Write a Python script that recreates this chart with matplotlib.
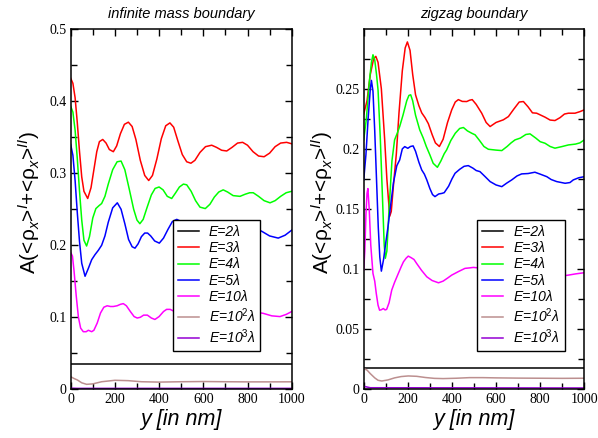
import matplotlib
matplotlib.use("Agg")
import matplotlib.pyplot as plt
from matplotlib.ticker import MultipleLocator, FormatStrFormatter

plt.rcParams['font.family'] = ['Liberation Sans', 'DejaVu Sans']
plt.rcParams['mathtext.fontset'] = 'custom'
plt.rcParams['mathtext.rm'] = 'Liberation Sans'
plt.rcParams['mathtext.it'] = 'Liberation Sans:italic'

# ---- data (y in nm, amplitude) ----
labels = ['E=2λ', 'E=3λ', 'E=4λ', 'E=5λ', 'E=10λ', 'E=10$^{2}$λ', 'E=10$^{3}$λ']
colors = ['#000000', '#ff0000', '#00ff00', '#0000ff', '#ff00ff', '#bc8f8f', '#9400d3']

# infinite mass boundary
im_e2_x = [0, 1000]
im_e2_y = [0.0352, 0.0352]

im_e3_x = [0, 10, 20, 30, 40, 50, 60, 77, 92, 105, 118, 130, 145, 160, 175, 193, 208, 225, 243, 261,
           278, 295, 315, 335, 353, 370, 390, 410, 430, 449, 466, 485, 505, 525, 544, 562, 585, 610,
           638, 660, 683, 706, 730, 755, 778, 800, 825, 850, 875, 900, 925, 950, 977, 1000]
im_e3_y = [0.432, 0.425, 0.405, 0.370, 0.330, 0.295, 0.275, 0.265, 0.280, 0.305, 0.330, 0.344, 0.347,
           0.342, 0.333, 0.330, 0.338, 0.355, 0.368, 0.371, 0.365, 0.347, 0.318, 0.297, 0.290, 0.297,
           0.320, 0.348, 0.366, 0.370, 0.364, 0.345, 0.326, 0.316, 0.314, 0.318, 0.329, 0.337, 0.339,
           0.336, 0.332, 0.331, 0.336, 0.342, 0.343, 0.339, 0.330, 0.324, 0.323, 0.328, 0.337, 0.342,
           0.343, 0.341]

im_e4_x = [0, 10, 20, 30, 40, 50, 60, 72, 85, 100, 114, 128, 140, 155, 170, 190, 210, 228, 245, 265,
           285, 300, 313, 328, 345, 365, 382, 400, 418, 437, 457, 475, 492, 510, 525, 545, 565, 585,
           609, 630, 650, 670, 690, 710, 735, 766, 790, 810, 826, 850, 875, 902, 925, 950, 975, 1000]
im_e4_y = [0.393, 0.385, 0.360, 0.320, 0.275, 0.235, 0.207, 0.199, 0.212, 0.238, 0.251, 0.255, 0.258,
           0.268, 0.285, 0.305, 0.316, 0.317, 0.305, 0.278, 0.250, 0.235, 0.230, 0.236, 0.252, 0.270,
           0.279, 0.281, 0.277, 0.268, 0.265, 0.273, 0.281, 0.285, 0.284, 0.275, 0.262, 0.253, 0.251,
           0.257, 0.267, 0.274, 0.277, 0.274, 0.269, 0.268, 0.271, 0.273, 0.273, 0.268, 0.262, 0.259,
           0.262, 0.268, 0.273, 0.275]

im_e5_x = [0, 10, 20, 30, 40, 50, 65, 80, 95, 110, 125, 140, 155, 170, 190, 211, 228, 245, 262, 278,
           291, 305, 320, 335, 348, 362, 380, 401, 420, 440, 460, 480, 500, 530, 560, 590, 620, 650,
           680, 710, 740, 770, 800, 830, 867, 900, 939, 970, 1000]
im_e5_y = [0.340, 0.325, 0.290, 0.245, 0.205, 0.175, 0.157, 0.168, 0.180, 0.187, 0.193, 0.200, 0.213,
           0.232, 0.252, 0.259, 0.250, 0.230, 0.208, 0.198, 0.196, 0.202, 0.212, 0.217, 0.217, 0.213,
           0.206, 0.203, 0.210, 0.222, 0.233, 0.236, 0.233, 0.224, 0.216, 0.218, 0.225, 0.227, 0.222,
           0.215, 0.213, 0.218, 0.224, 0.225, 0.219, 0.213, 0.210, 0.214, 0.221]

im_e10_x = [0, 8, 15, 25, 35, 45, 57, 70, 80, 95, 105, 120, 135, 150, 165, 180, 193, 210, 225, 238,
            252, 270, 287, 301, 315, 330, 347, 365, 381, 400, 420, 434, 450, 470, 500, 540, 580, 620,
            660, 700, 740, 780, 820, 871, 910, 947, 975, 1000]
im_e10_y = [0.190, 0.185, 0.165, 0.130, 0.100, 0.085, 0.080, 0.080, 0.082, 0.080, 0.082, 0.092, 0.106,
            0.114, 0.116, 0.115, 0.115, 0.116, 0.118, 0.119, 0.116, 0.108, 0.101, 0.099, 0.100, 0.103,
            0.103, 0.099, 0.097, 0.101, 0.108, 0.111, 0.111, 0.108, 0.104, 0.102, 0.105, 0.108, 0.106,
            0.103, 0.104, 0.107, 0.108, 0.1055, 0.102, 0.101, 0.104, 0.108]

im_e100_x = [0, 15, 30, 50, 72, 100, 140, 200, 260, 320, 400, 500, 600, 700, 800, 900, 1000]
im_e100_y = [0.0175, 0.0150, 0.0130, 0.0090, 0.0069, 0.0075, 0.0105, 0.0125, 0.0120, 0.0105, 0.0100,
             0.0105, 0.0108, 0.0105, 0.0103, 0.0103, 0.0104]

im_e1000_x = [0, 30, 1000]
im_e1000_y = [0.0016, 0.0013, 0.0013]

# zigzag boundary
zz_e2_x = [0, 1000]
zz_e2_y = [0.0181, 0.0181]

zz_e3_x = [0, 15, 30, 45, 55, 65, 80, 95, 105, 118, 125, 135, 148, 160, 175, 188, 198, 210, 222, 235,
           250, 263, 278, 293, 310, 325, 343, 360, 380, 399, 415, 429, 447, 467, 480, 492, 510, 535,
           555, 573, 600, 633, 656, 680, 705, 724, 745, 765, 784, 822, 845, 867, 890, 910, 928, 958,
           980, 1000]
zz_e3_y = [0.229, 0.240, 0.262, 0.275, 0.277, 0.272, 0.250, 0.208, 0.175, 0.144, 0.148, 0.170, 0.196,
           0.230, 0.265, 0.284, 0.289, 0.282, 0.262, 0.245, 0.236, 0.230, 0.226, 0.221, 0.212, 0.205,
           0.202, 0.208, 0.222, 0.2325, 0.239, 0.241, 0.2395, 0.2394, 0.2405, 0.241, 0.237, 0.2297,
           0.222, 0.2186, 0.222, 0.2242, 0.2269, 0.233, 0.239, 0.2394, 0.235, 0.230, 0.2297, 0.2264,
           0.224, 0.2236, 0.226, 0.229, 0.2297, 0.2297, 0.231, 0.2325]

zz_e4_x = [0, 12, 25, 35, 42, 50, 58, 65, 75, 85, 93, 98, 105, 115, 128, 140, 152, 163, 178, 195, 205,
           213, 222, 235, 254, 270, 284, 300, 315, 334, 350, 365, 376, 395, 415, 435, 452, 470, 490,
           505, 525, 545, 565, 600, 626, 650, 668, 686, 710, 735, 754, 780, 800, 822, 845, 867, 900,
           928, 960, 980, 1000]
zz_e4_y = [0.2075, 0.225, 0.255, 0.272, 0.2783, 0.274, 0.262, 0.249, 0.210, 0.160, 0.120, 0.109, 0.115,
           0.150, 0.190, 0.2075, 0.213, 0.2186, 0.228, 0.240, 0.2445, 0.245, 0.240, 0.228, 0.2158,
           0.209, 0.2019, 0.195, 0.188, 0.1847, 0.190, 0.196, 0.1992, 0.207, 0.213, 0.217, 0.2178,
           0.215, 0.213, 0.2117, 0.207, 0.202, 0.1997, 0.199, 0.1986, 0.202, 0.205, 0.2075, 0.209,
           0.212, 0.2125, 0.209, 0.206, 0.2047, 0.202, 0.2006, 0.202, 0.2033, 0.204, 0.205, 0.2075]

zz_e5_x = [0, 10, 20, 30, 35, 42, 50, 58, 66, 73, 80, 90, 100, 110, 120, 135, 150, 163, 175, 186, 200,
           212, 224, 235, 250, 263, 275, 286, 300, 312, 323, 340, 355, 365, 385, 400, 414, 435, 455,
           474, 495, 510, 527, 550, 573, 600, 626, 648, 671, 695, 716, 745, 776, 800, 830, 850, 875,
           913, 935, 950, 975, 1000]
zz_e5_y = [0.174, 0.195, 0.225, 0.250, 0.257, 0.248, 0.215, 0.175, 0.135, 0.110, 0.0983, 0.108, 0.122,
           0.135, 0.150, 0.172, 0.186, 0.1908, 0.200, 0.2019, 0.2005, 0.202, 0.2025, 0.198, 0.189,
           0.1825, 0.179, 0.1742, 0.167, 0.162, 0.1603, 0.1625, 0.163, 0.1636, 0.169, 0.175, 0.1797,
           0.183, 0.1855, 0.1861, 0.184, 0.182, 0.1811, 0.177, 0.1728, 0.170, 0.1686, 0.1715, 0.1742,
           0.1775, 0.1792, 0.1795, 0.1806, 0.179, 0.1769, 0.1745, 0.1728, 0.1714, 0.172, 0.1742,
           0.176, 0.1769]

zz_e10_x = [0, 5, 10, 15, 19, 25, 32, 42, 50, 57, 65, 72, 80, 89, 97, 104, 115, 127, 140, 157, 170,
            180, 192, 202, 215, 228, 240, 262, 286, 310, 339, 360, 380, 399, 430, 459, 480, 497, 520,
            560, 600, 650, 700, 750, 800, 850, 890, 928, 960, 1000]
zz_e10_y = [0.099, 0.115, 0.145, 0.163, 0.167, 0.150, 0.120, 0.0964, 0.090, 0.0797, 0.070, 0.0658,
            0.0662, 0.0672, 0.066, 0.0665, 0.072, 0.0825, 0.089, 0.0964, 0.102, 0.106, 0.109, 0.1108,
            0.1095, 0.108, 0.1047, 0.099, 0.0936, 0.0905, 0.0886, 0.090, 0.0925, 0.095, 0.098, 0.1006,
            0.101, 0.1014, 0.101, 0.099, 0.098, 0.099, 0.097, 0.096, 0.096, 0.095, 0.094, 0.095, 0.096,
            0.097]

zz_e100_x = [0, 15, 30, 50, 65, 82, 110, 140, 170, 202, 240, 280, 320, 360, 420, 480, 540, 600, 700,
             800, 900, 1000]
zz_e100_y = [0.0172, 0.0160, 0.0130, 0.0095, 0.0075, 0.0069, 0.0078, 0.0095, 0.0106, 0.0111, 0.0108,
             0.0098, 0.0091, 0.0089, 0.0092, 0.0097, 0.0097, 0.0095, 0.0093, 0.0092, 0.0091, 0.0092]

zz_e1000_x = [0, 30, 1000]
zz_e1000_y = [0.0025, 0.0013, 0.0011]

panels = [
    dict(title='infinite mass boundary', ymax=0.5, ymaj=0.1, ymin=0.05, legx=0.464,
         series=[(im_e2_x, im_e2_y), (im_e3_x, im_e3_y), (im_e4_x, im_e4_y), (im_e5_x, im_e5_y),
                 (im_e10_x, im_e10_y), (im_e100_x, im_e100_y), (im_e1000_x, im_e1000_y)]),
    # top label 0.3 is not printed in the original
    dict(title='zigzag boundary', ymax=0.2995, ymaj=0.05, ymin=0.025, legx=0.515,
         series=[(zz_e2_x, zz_e2_y), (zz_e3_x, zz_e3_y), (zz_e4_x, zz_e4_y), (zz_e5_x, zz_e5_y),
                 (zz_e10_x, zz_e10_y), (zz_e100_x, zz_e100_y), (zz_e1000_x, zz_e1000_y)]),
]

fig = plt.figure(figsize=(5.98, 4.38), dpi=100)
axes = [fig.add_axes([0.1182, 0.1112, 0.3696, 0.8219]),
        fig.add_axes([0.6082, 0.1112, 0.3689, 0.8219])]

ylabel = 'A(<ρ$_x$>$^{I}$+<ρ$_x$>$^{II}$)'

for ax, p in zip(axes, panels):
    for (xs, ys), c, lab in zip(p['series'], colors, labels):
        ax.plot(xs, ys, color=c, lw=1.1, label=lab)
    ax.set_xlim(0, 1000)
    ax.set_ylim(0, p['ymax'])
    ax.xaxis.set_major_locator(MultipleLocator(200))
    ax.xaxis.set_minor_locator(MultipleLocator(100))
    ax.yaxis.set_major_locator(MultipleLocator(p['ymaj']))
    ax.yaxis.set_minor_locator(MultipleLocator(p['ymin']))
    ax.yaxis.set_major_formatter(FormatStrFormatter('%g'))
    ax.tick_params(which='both', direction='in', top=True, right=True, width=1.0,
                   labelsize=10, labelfontfamily='Liberation Serif', pad=3)
    ax.tick_params(which='major', length=5)
    ax.tick_params(which='minor', length=4)
    for s in ax.spines.values():
        s.set_linewidth(1.1)
    ax.set_title(p['title'], fontsize=10.5, style='italic', pad=8)
    ax.set_xlabel('y [in nm]', fontsize=15.5, style='italic', labelpad=2)
    ax.set_ylabel(ylabel, fontsize=15)
    ax.yaxis.set_label_coords(-0.13, 0.52)
    leg = ax.legend(loc='upper left', bbox_to_anchor=(p['legx'], 0.470), borderaxespad=0,
                    fancybox=False, edgecolor='black', framealpha=1, handlelength=1.5,
                    handletextpad=0.75, labelspacing=0.17, borderpad=0.33,
                    prop={'size': 10, 'style': 'italic'})
    leg.get_frame().set_linewidth(1.0)

fig.savefig('out.png', dpi=100)
